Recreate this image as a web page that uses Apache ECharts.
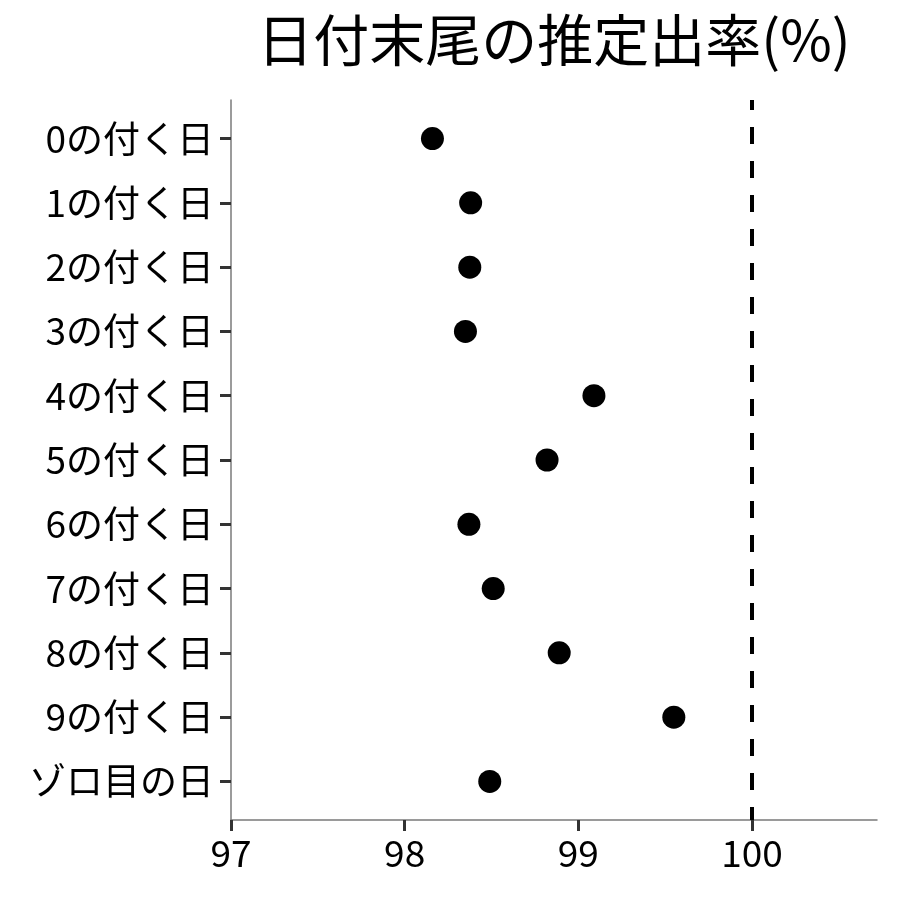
<!DOCTYPE html>
<html>
<head>
<meta charset="utf-8">
<script src="https://cdn.jsdelivr.net/npm/echarts@6/dist/echarts.min.js"></script>
<style>
  html, body { margin: 0; padding: 0; background: #fff; }
  #dotChart { width: 900px; height: 900px; }
</style>
</head>
<body>
<div id="dotChart"></div>
<script>
// 日付の区分（上から順）
const categories = ['0の付く日', '1の付く日', '2の付く日', '3の付く日', '4の付く日',
  '5の付く日', '6の付く日', '7の付く日', '8の付く日', '9の付く日', 'ゾロ目の日'];
// 推定出率(%)
const rates = [98.16, 98.38, 98.375, 98.35, 99.09, 98.82, 98.37, 98.51, 98.89, 99.55, 98.49];
// x軸の目盛り
const xTicks = [97, 98, 99, 100];
// 基準線
const refLine = 100;

const fontJP = '"Noto Sans CJK JP", "Noto Sans", sans-serif';

// y軸はカテゴリ番号の数値軸にして上下に余白を取る
const catIdx = categories.map((c, i) => i);
const points = rates.map((v, i) => [v, i]);

const dotChart = echarts.init(document.getElementById('dotChart'));

const dotOpt = {
  animation: false,
  title: {
    text: '日付末尾の推定出率(%)',
    left: 554,
    top: 12,
    padding: 0,
    textAlign: 'center',
    textStyle: {
      fontFamily: fontJP,
      fontSize: 56,
      fontWeight: 'normal',
      color: '#000'
    }
  },
  grid: {
    left: 231,
    right: 23,
    top: 100,
    bottom: 80
  },
  xAxis: {
    type: 'value',
    min: 97,
    max: 100.72,
    splitLine: { show: false },
    axisLine: { onZero: false, lineStyle: { color: '#7a7a7a', width: 1.5 } },
    axisTick: {
      customValues: xTicks,
      length: 11,
      lineStyle: { color: '#333', width: 3 }
    },
    axisLabel: {
      customValues: xTicks,
      margin: 14,
      fontFamily: fontJP,
      fontSize: 37,
      color: '#000'
    }
  },
  yAxis: {
    type: 'value',
    min: -0.6,
    max: 10.6,
    inverse: true,
    splitLine: { show: false },
    axisLine: { show: true, onZero: false, lineStyle: { color: '#7a7a7a', width: 1.5 } },
    axisTick: {
      show: true,
      customValues: catIdx,
      length: 11,
      lineStyle: { color: '#333', width: 3 }
    },
    axisLabel: {
      customValues: catIdx,
      margin: 17,
      fontFamily: fontJP,
      fontSize: 37,
      color: '#000',
      formatter: v => categories[v]
    }
  },
  series: [{
    type: 'scatter',
    data: points,
    symbolSize: 23,
    itemStyle: { color: '#000', opacity: 1 },
    markLine: {
      silent: true,
      symbol: 'none',
      label: { show: false },
      lineStyle: {
        color: '#000',
        width: 4,
        opacity: 1,
        type: [17, 17],
        dashOffset: 7
      },
      data: [{ xAxis: refLine }]
    }
  }]
};

dotChart.setOption(dotOpt);
</script>
</body>
</html>
